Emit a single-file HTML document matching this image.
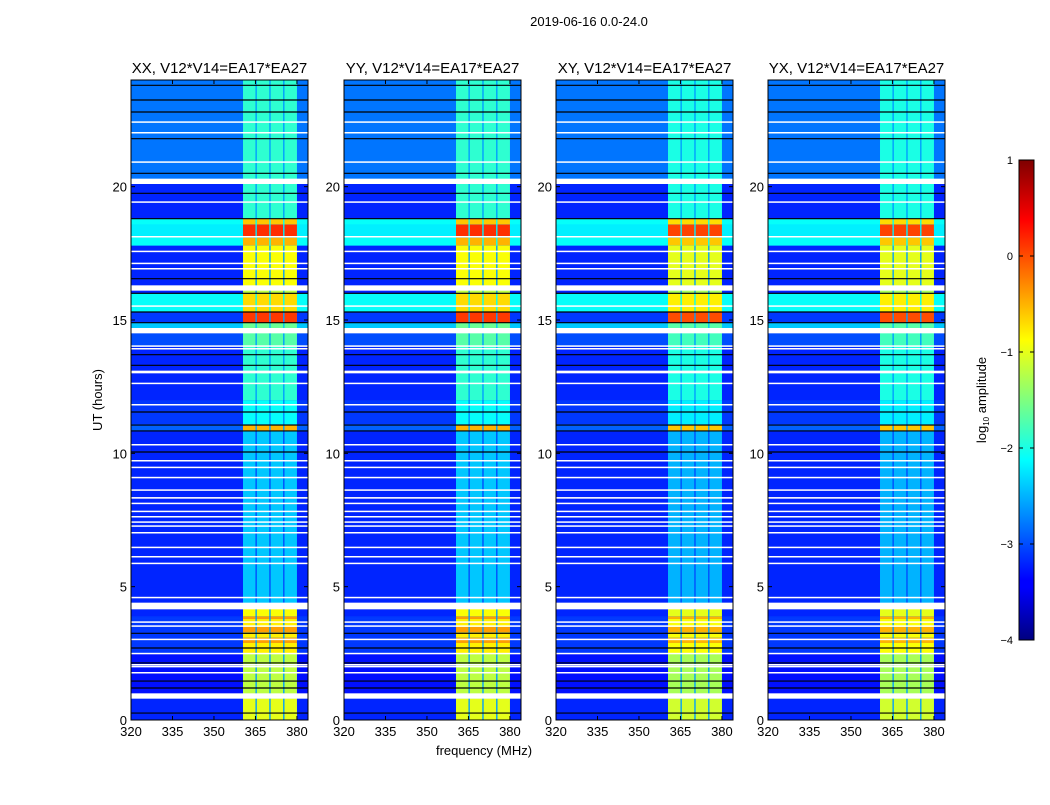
<!DOCTYPE html>
<html><head><meta charset="utf-8"><style>
body{margin:0;background:#fff;}
svg text{font-family:"Liberation Sans",sans-serif;fill:#000;}
</style></head><body>
<svg id="fig" width="1050" height="800" xmlns="http://www.w3.org/2000/svg">
<rect width="1050" height="800" fill="#fff"/>
<text x="589" y="26" font-size="13" text-anchor="middle">2019-06-16 0.0-24.0</text>
<text x="484" y="755" font-size="13" text-anchor="middle">frequency (MHz)</text>
<text transform="translate(102,400) rotate(-90)" font-size="13" text-anchor="middle">UT (hours)</text>
<g id="panels"></g>
<defs><linearGradient id="jet" x1="0" y1="1" x2="0" y2="0">
<stop offset="0" stop-color="#00007f"/><stop offset="0.11" stop-color="#0000ff"/><stop offset="0.125" stop-color="#0000ff"/><stop offset="0.34" stop-color="#00dcff"/><stop offset="0.375" stop-color="#00ffff" /><stop offset="0.5" stop-color="#7fff7f"/><stop offset="0.625" stop-color="#ffff00"/><stop offset="0.66" stop-color="#ffdc00"/><stop offset="0.875" stop-color="#ff0000"/><stop offset="1" stop-color="#7f0000"/>
</linearGradient></defs>
<rect x="1019" y="160" width="15" height="480" fill="url(#jet)" stroke="#000" stroke-width="1"/>
<g id="cbticks"></g>
<text transform="translate(986,400) rotate(-90)" font-size="13" text-anchor="middle">log<tspan font-size="8" dy="3">10</tspan><tspan dy="-3"> amplitude</tspan></text>
</svg>
<script>
const titles=["XX, V12*V14=EA17*EA27","YY, V12*V14=EA17*EA27","XY, V12*V14=EA17*EA27","YX, V12*V14=EA17*EA27"];
const panelX=[131,344,556,768];
// time segments: [start hour, end hour, background level, band level]
const segStart=[0,0.8,1.0,2.5,2.9,3.1,3.3,3.5,3.8,3.9,4.4,10.84,11.1,12.0,14.0,14.7,14.9,15.3,16.0,16.3,17.8,18.1,18.6,18.8,20.3];
const segEnd  =[0.8,1.0,2.5,2.9,3.1,3.3,3.5,3.8,3.9,4.4,10.84,11.1,12.0,14.0,14.7,14.9,15.3,16.0,16.3,17.8,18.1,18.6,18.8,20.3,24];
const segBg   =[-3.2,-3.2,-3.3,-3.1,-3.1,-3.1,-3.1,-3.1,-3.1,-3.2,-3.2,-2.9,-3.1,-3.2,-3.0,-2.4,-3.1,-2.1,-3.2,-3.2,-2.1,-2.2,-2.1,-3.2,-2.8];
const segBand =[-1.0,-1.1,-1.2,-0.8,-0.4,-0.8,-0.4,-0.8,-0.4,-0.9,-2.4,-0.5,-2.1,-1.9,-1.7,-1.6,0.1,-0.7,-1.2,-0.9,-0.5,0.15,-0.6,-1.9,-1.9];
// sub-band edges (MHz)
const subLo=[360.5,365.5,370.5,375.5];
const subHi=[365,370,375,380];
const gapLevel=-2.6;
// flagged (white) intervals in hours
const flagLo=[0.8,1.75,2.0,2.06,2.47,3.0,3.5,3.65,4.15,4.57,5.85,6.1,6.45,7.0,7.25,7.4,7.6,7.8,8.1,8.3,8.6,9.07,9.45,9.7,10.3,11.8,12.6,13.0,13.9,14.0,14.5,15.5,16.1,16.9,17.1,17.55,18.1,19.4,20.1,20.9,22.0,22.4];
const flagHi=[1.0,1.8,2.03,2.1,2.52,3.05,3.55,3.7,4.4,4.62,5.9,6.15,6.5,7.05,7.3,7.45,7.65,7.85,8.15,8.36,8.65,9.12,9.5,9.75,10.35,11.85,12.65,13.1,13.95,14.05,14.7,15.55,16.3,16.95,17.15,17.6,18.15,19.45,20.3,20.95,22.05,22.45];
// bad (black) lines in hours
const blackH=[0.26,1.2,1.46,2.14,2.7,3.25,10.05,10.84,11.06,11.55,13.3,13.7,14.9,15.3,16.0,16.55,18.8,19.75,20.5,21.8,22.8,23.25,23.8];
const xTicks=[320,335,350,365,380];
const yTicks=[0,5,10,15,20];
const cbTicks=[1,0,-1,-2,-3,-4];
const F0=320,F1=384,H0=0,H1=24,PW=177,PY0=80,PY1=720,VMIN=-4,VMAX=1;
function jet(v){let t=(v-VMIN)/(VMAX-VMIN);t=Math.max(0,Math.min(1,t));
 const c=x=>Math.round(255*Math.max(0,Math.min(1,1.5-Math.abs(4*t-x))));
 return `rgb(${c(3)},${c(2)},${c(1)})`;}
const NS="http://www.w3.org/2000/svg";
function mk(tag,attrs,parent){const e=document.createElementNS(NS,tag);for(const k in attrs)e.setAttribute(k,attrs[k]);parent.appendChild(e);return e;}
const root=document.getElementById('panels');
panelX.forEach((x0,pi)=>{
 const xs=f=>x0+(f-F0)/(F1-F0)*PW;
 const ys=h=>PY1-(h-H0)/(H1-H0)*(PY1-PY0);
 const g=mk('g',{},root);
 
 
 const dim=pi>=2?0.1:0;
 for(let i=0;i<segStart.length;i++){
  const yA=ys(segEnd[i]),yB=ys(segStart[i]);
  const r=mk('rect',{x:x0,y:yA,width:PW,height:yB-yA+0.3,fill:jet(segBg[i])},g);
  
  
  const gp=mk('rect',{x:xs(subLo[0]),y:yA,width:xs(subHi[3])-xs(subLo[0]),height:yB-yA+0.3,fill:jet(Math.max(segBg[i],Math.min(gapLevel,segBand[i]-0.6)))},g);
  
  
  for(let s=0;s<subLo.length;s++){
   const c=mk('rect',{x:xs(subLo[s]),y:yA,width:xs(subHi[s])-xs(subLo[s]),height:yB-yA+0.3,fill:jet(segBand[i]-dim)},g);
   
   
  }
 }
 for(let i=0;i<flagLo.length;i++){
  const yA=ys(flagHi[i]),yB=ys(flagLo[i]);
  const r=mk('rect',{x:x0,y:yA,width:PW,height:Math.max(1.5,yB-yA),fill:'#fff'},g);
  
  
 }
 for(const h of blackH){
  const l=mk('line',{x1:x0,x2:x0+PW,y1:ys(h),y2:ys(h),stroke:'#000','stroke-width':1.2},g);
  
  
 }
 const fr=mk('rect',{x:x0,y:PY0,width:PW,height:PY1-PY0,fill:'none',stroke:'#000','stroke-width':1},g);
 
 
 const t=mk('text',{x:x0+PW/2,y:73,'font-size':15,'text-anchor':'middle'},g);t.textContent=titles[pi];
 
 
 xTicks.forEach(f=>{const X=xs(f);
  mk('line',{x1:X,x2:X,y1:PY1,y2:PY1-4,stroke:'#000'},g);mk('line',{x1:X,x2:X,y1:PY0,y2:PY0+4,stroke:'#000'},g);
  const tx=mk('text',{x:X,y:PY1+16,'font-size':13,'text-anchor':'middle'},g);tx.textContent=f;
  
  });
 yTicks.forEach(h=>{const Y=ys(h);
  mk('line',{x1:x0,x2:x0+4,y1:Y,y2:Y,stroke:'#000'},g);mk('line',{x1:x0+PW,x2:x0+PW-4,y1:Y,y2:Y,stroke:'#000'},g);
  const ty=mk('text',{x:x0-4,y:Y+5,'font-size':13,'text-anchor':'end'},g);ty.textContent=h;
  
  });
});
const cb=document.getElementById('cbticks');
cbTicks.forEach(v=>{const Y=640-(v-VMIN)/(VMAX-VMIN)*480;
 mk('line',{x1:1019,x2:1023,y1:Y,y2:Y,stroke:'#000'},cb);mk('line',{x1:1034,x2:1030,y1:Y,y2:Y,stroke:'#000'},cb);
 const t=mk('text',{x:1013,y:Y+4,'font-size':11,'text-anchor':'end'},cb);t.textContent=v<0?'\u2212'+(-v):v;
 
 });
</script>
</body></html>
